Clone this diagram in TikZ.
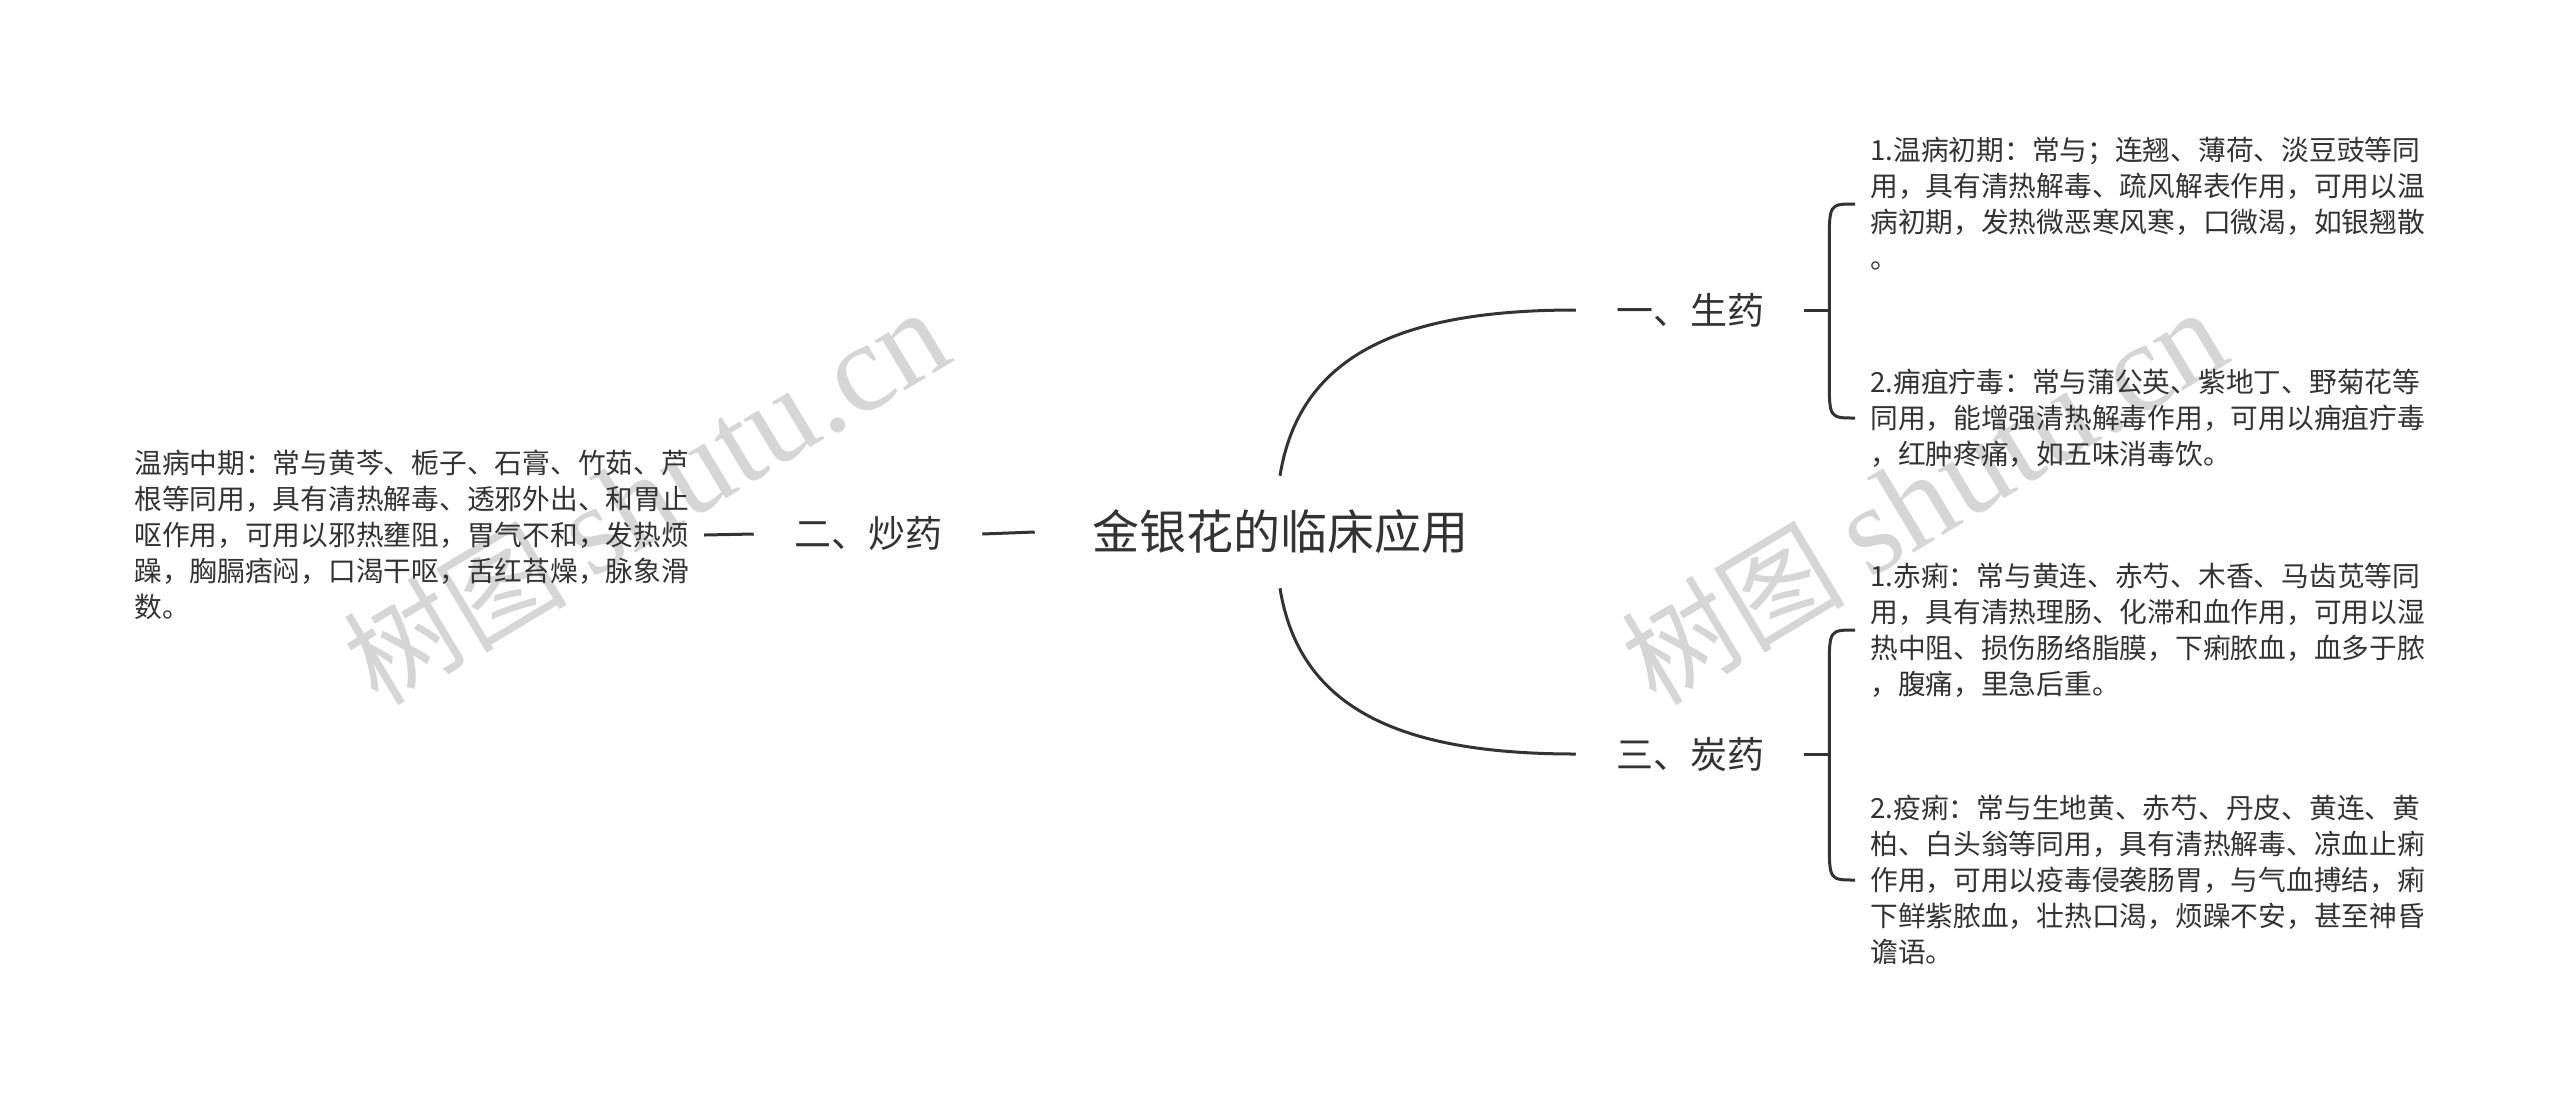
\documentclass[tikz,border=0pt]{standalone}
\usepackage{fontspec}
\setmainfont{Noto Sans CJK SC}
\newfontfamily\wmlatin{Liberation Serif}
\usetikzlibrary{calc}
\definecolor{ink}{HTML}{333333}
\definecolor{wm}{HTML}{D6D6D6}
\begin{document}
\begin{tikzpicture}[x=0.75pt,y=-0.75pt,
  conn/.style={draw=ink, line width=2.25pt},
  rootnode/.style={text=ink, font=\fontsize{35.25pt}{42pt}\selectfont, inner xsep=42.75pt, inner ysep=25.5pt},
  topic/.style={text=ink, font=\fontsize{27.75pt}{33pt}\selectfont, inner xsep=30pt, inner ysep=6pt},
  leaf/.style={text=ink, font=\fontsize{20.8pt}{27pt}\selectfont, align=left, inner xsep=11.25pt, inner ysep=0pt, anchor=west},
  watermark/.style={text=wm, rotate=31, anchor=base west, inner sep=0pt, font=\fontsize{84pt}{90pt}\selectfont}
]
\fill[white] (0,0) rectangle (2560,1101);
\useasboundingbox (0,0) rectangle (2560,1101);

% watermarks
\node[watermark] (wm1) at (378,708) {树图 {\wmlatin\fontsize{95pt}{95pt}\selectfont shutu.cn}};
\node[watermark] (wm2) at (1656,708) {树图 {\wmlatin\fontsize{95pt}{95pt}\selectfont shutu.cn}};

% nodes
\node[rootnode] (root) at (1280,532) {金银花的临床应用};
\node[topic] (sheng) at (1690,310) {一、生药};
\node[topic] (tan) at (1690,754) {三、炭药};
\node[topic] (chao) at (868,534) {二、炒药};

\node[leaf] (s1) at (1855,204) {1.温病初期：常与；连翘、薄荷、淡豆豉等同\\用，具有清热解毒、疏风解表作用，可用以温\\病初期，发热微恶寒风寒，口微渴，如银翘散\\。};
\node[leaf] (s2) at (1855,418) {2.痈疽疔毒：常与蒲公英、紫地丁、野菊花等\\同用，能增强清热解毒作用，可用以痈疽疔毒\\，红肿疼痛，如五味消毒饮。};
\node[leaf] (t1) at (1855,630) {1.赤痢：常与黄连、赤芍、木香、马齿苋等同\\用，具有清热理肠、化滞和血作用，可用以湿\\热中阻、损伤肠络脂膜，下痢脓血，血多于脓\\，腹痛，里急后重。};
\node[leaf] (t2) at (1855,880) {2.疫痢：常与生地黄、赤芍、丹皮、黄连、黄\\柏、白头翁等同用，具有清热解毒、凉血止痢\\作用，可用以疫毒侵袭肠胃，与气血搏结，痢\\下鲜紫脓血，壮热口渴，烦躁不安，甚至神昏\\谵语。};
\node[leaf] (c1) at (119,535) {温病中期：常与黄芩、栀子、石膏、竹茹、芦\\根等同用，具有清热解毒、透邪外出、和胃止\\呕作用，可用以邪热壅阻，胃气不和，发热烦\\躁，胸膈痞闷，口渴干呕，舌红苔燥，脉象滑\\数。};

% root to topics
\draw[conn] (root.north) .. controls ($(root.north)+(20,-125)$) and ($(sheng.west)+(-168,0)$) .. (sheng.west);
\draw[conn] (root.south) .. controls ($(root.south)+(20,125)$) and ($(tan.west)+(-168,0)$) .. (tan.west);
\draw[conn] (chao.east) -- (root.west);
\draw[conn] (c1.east) -- (chao.west);

% brackets
\coordinate (sb) at ($(sheng.east)+(25,0)$);
\coordinate (sbt) at (s1.west -| sb);
\coordinate (sbb) at (s2.west -| sb);
\draw[conn] (sheng.east) -- (sb);
\draw[conn] (s1.west) .. controls (sbt) .. ($(sbt)+(0,40)$) -- ($(sbb)+(0,-40)$) .. controls (sbb) .. (s2.west);

\coordinate (tb) at ($(tan.east)+(25,0)$);
\coordinate (tbt) at (t1.west -| tb);
\coordinate (tbb) at (t2.west -| tb);
\draw[conn] (tan.east) -- (tb);
\draw[conn] (t1.west) .. controls (tbt) .. ($(tbt)+(0,40)$) -- ($(tbb)+(0,-40)$) .. controls (tbb) .. (t2.west);
\end{tikzpicture}
\end{document}
